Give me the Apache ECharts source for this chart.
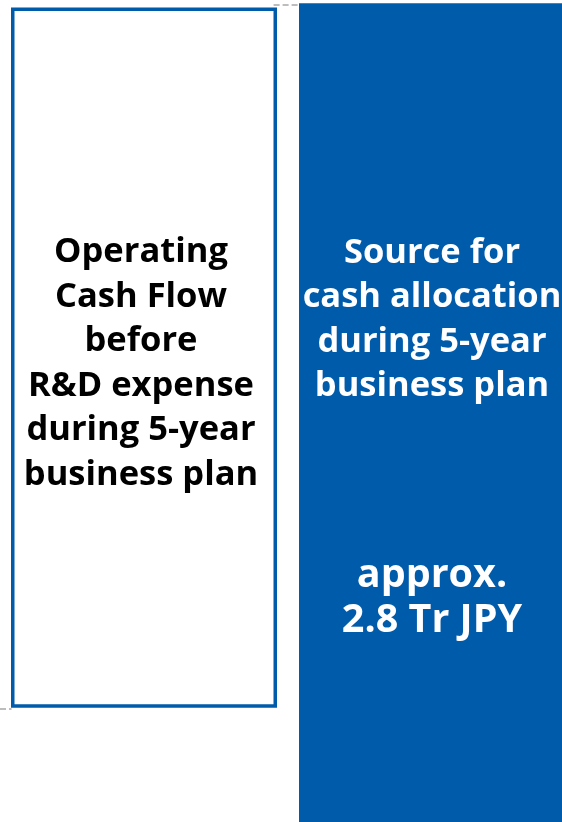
<!DOCTYPE html>
<html>
<head>
<meta charset="utf-8">
<script src="https://cdn.jsdelivr.net/npm/echarts@6/dist/echarts.min.js"></script>
<style>
  html, body { margin: 0; padding: 0; background: #fff; }
  #chart { width: 562px; height: 822px; }
</style>
</head>
<body>
<div id="chart"></div>
<script>
var categories = ['Operating Cash Flow before R&D expense', 'Source for cash allocation'];
var barBase = [13.9, 0];          // invisible part under each bar
var barValue = [85.2, 99.6];      // visible height of each bar
var leftLabel = ['Operating', 'Cash Flow', 'before', 'R&D expense', 'during 5-year', 'business plan'];
var rightLabelTop = ['Source for', 'cash allocation', 'during 5-year', 'business plan'];
var rightLabelBottom = ['approx.', '2.8 Tr JPY'];
// dashed connector lines [x, y] on the helper value axis
var connectorTop = [[0.45, 99.4], [0.54, 99.4]];
var connectorBottom = [[-0.5, 13.75], [-0.46, 13.75]];

var blue = '#005BAB';
var font = '"Open Sans", "Noto Sans", sans-serif';

function lines(arr, style) {
    return arr.map(function (s) { return '{' + style + '|' + s + '}'; }).join('\n');
}

var myChart = echarts.init(document.getElementById('chart'));

var option = {
    animation: false,
    grid: { left: 0, top: 0, width: 576, bottom: 0, outerBoundsMode: 'none' },
    xAxis: [
        { type: 'category', data: categories, show: false },
        { type: 'value', min: -0.5, max: 1.5, show: false }
    ],
    yAxis: { type: 'value', min: 0, max: 100, show: false },
    series: [
        {
            type: 'bar',
            stack: 'w',
            barWidth: 266,
            data: barBase,
            itemStyle: { color: 'transparent' },
            silent: true
        },
        {
            type: 'bar',
            stack: 'w',
            barWidth: 266,
            data: [
                {
                    value: barValue[0],
                    itemStyle: { color: '#fff', borderColor: blue, borderWidth: 3.5 },
                    label: {
                        show: true,
                        position: 'inside',
                        offset: [-3, 6],
                        formatter: lines(leftLabel, 'k'),
                        rich: {
                            k: { color: '#000', fontFamily: font, fontWeight: 'bold', fontSize: 34.5, lineHeight: 44.5, align: 'center' }
                        }
                    }
                },
                {
                    value: barValue[1],
                    itemStyle: { color: blue },
                    label: {
                        show: true,
                        position: 'inside',
                        offset: [0, 24.5],
                        formatter: lines(rightLabelTop, 'w') + '\n{gap|}\n' + lines(rightLabelBottom, 'big'),
                        rich: {
                            w: { color: '#fff', fontFamily: font, fontWeight: 'bold', fontSize: 34.5, lineHeight: 44.5, align: 'center' },
                            big: { color: '#fff', fontFamily: font, fontWeight: 'bold', fontSize: 39.5, lineHeight: 45, align: 'center' },
                            gap: { height: 145, lineHeight: 145 }
                        }
                    }
                }
            ]
        },
        {
            type: 'line',
            xAxisIndex: 1,
            data: connectorTop,
            symbol: 'none',
            lineStyle: { color: '#bdbdbd', width: 2, type: [6, 3] },
            silent: true
        },
        {
            type: 'line',
            xAxisIndex: 1,
            data: connectorBottom,
            symbol: 'none',
            lineStyle: { color: '#bdbdbd', width: 2, type: [6, 3] },
            silent: true
        }
    ]
};

myChart.setOption(option);
</script>
</body>
</html>
